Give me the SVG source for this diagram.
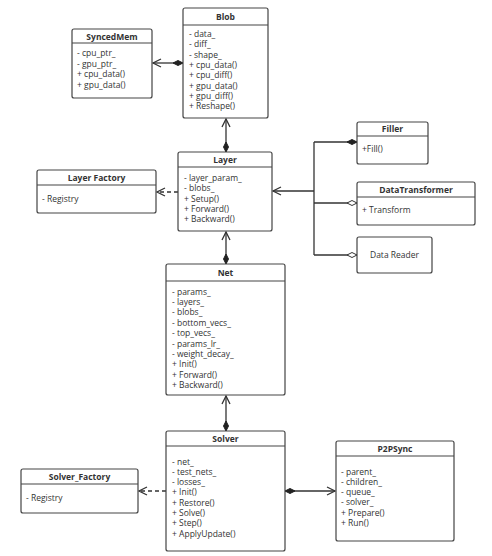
<svg xmlns="http://www.w3.org/2000/svg" width="492" height="556" viewBox="0 0 492 556">
<style>
.box{fill:#fff;stroke:#444;stroke-width:1.2}
.hl{stroke:#444;stroke-width:1.1}
.t{font-family:"Open Sans","Noto Sans",sans-serif;font-size:8.5px;fill:#333}
.b{font-weight:bold;text-anchor:middle}
.c{fill:none;stroke:#333;stroke-width:1.3}
.d{stroke-dasharray:4,3}
</style>
<defs>
<marker id="open" markerWidth="11" markerHeight="11" refX="9" refY="5" orient="auto" markerUnits="userSpaceOnUse">
<path d="M1,1 L9,5 L1,9" fill="none" stroke="#333" stroke-width="1.3"/>
</marker>
<marker id="fds" markerWidth="12" markerHeight="8" refX="1" refY="4" orient="auto" markerUnits="userSpaceOnUse">
<path d="M1,4 L6,1.5 L11,4 L6,6.5 Z" fill="#222" stroke="#222"/>
</marker>
<marker id="fd" markerWidth="12" markerHeight="8" refX="11" refY="4" orient="auto" markerUnits="userSpaceOnUse">
<path d="M1,4 L6,1.5 L11,4 L6,6.5 Z" fill="#222" stroke="#222"/>
</marker>
<marker id="od" markerWidth="12" markerHeight="8" refX="11" refY="4" orient="auto" markerUnits="userSpaceOnUse">
<path d="M1,4 L6,1.5 L11,4 L6,6.5 Z" fill="#fff" stroke="#333"/>
</marker>
</defs>
<rect width="492" height="556" fill="#fff"/>
<g id="connectors">
<path class="c" d="M183,63 L153,63" marker-start="url(#fds)" marker-end="url(#open)"/>
<path class="c" d="M226,152 L226,119" marker-start="url(#fds)" marker-end="url(#open)"/>
<path class="c d" d="M178,192 L157,192" marker-end="url(#open)"/>
<path class="c" d="M314,191 L273,191" marker-end="url(#open)"/>
<path class="c" d="M314,142 L314,255"/>
<path class="c" d="M314,142 L357,142" marker-end="url(#fd)"/>
<path class="c" d="M314,203 L357,203" marker-end="url(#od)"/>
<path class="c" d="M314,255 L357,255" marker-end="url(#od)"/>
<path class="c" d="M226,264 L226,232" marker-start="url(#fds)" marker-end="url(#open)"/>
<path class="c" d="M226,431 L226,396" marker-start="url(#fds)" marker-end="url(#open)"/>
<path class="c d" d="M166,491 L139,491" marker-end="url(#open)"/>
<path class="c" d="M285,491 L335,491" marker-start="url(#fds)" marker-end="url(#open)"/>
</g>
<g id="blob">
<rect class="box" x="183" y="8" width="85" height="110" rx="2"/>
<line class="hl" x1="183" y1="25" x2="268" y2="25"/>
<text class="t b" x="225.5" y="19.5">Blob</text>
<text class="t" x="189" y="37">- data_</text>
<text class="t" x="189" y="47.3">- diff_</text>
<text class="t" x="189" y="57.6">- shape_</text>
<text class="t" x="189" y="67.9">+ cpu_data()</text>
<text class="t" x="189" y="78.2">+ cpu_diff()</text>
<text class="t" x="189" y="88.5">+ gpu_data()</text>
<text class="t" x="189" y="98.8">+ gpu_diff()</text>
<text class="t" x="189" y="109.1">+ Reshape()</text>
</g>
<g id="syncedmem">
<rect class="box" x="72" y="29" width="80" height="69" rx="2"/>
<line class="hl" x1="72" y1="43" x2="152" y2="43"/>
<text class="t b" x="112" y="39.5">SyncedMem</text>
<text class="t" x="77" y="56">- cpu_ptr_</text>
<text class="t" x="77" y="66.5">- gpu_ptr_</text>
<text class="t" x="77" y="77">+ cpu_data()</text>
<text class="t" x="77" y="87.5">+ gpu_data()</text>
</g>
<g id="layer">
<rect class="box" x="178" y="152" width="94" height="79" rx="2"/>
<line class="hl" x1="178" y1="167" x2="272" y2="167"/>
<text class="t b" x="225" y="162.5">Layer</text>
<text class="t" x="184" y="181">- layer_param_</text>
<text class="t" x="184" y="191.3">- blobs_</text>
<text class="t" x="184" y="201.6">+ Setup()</text>
<text class="t" x="184" y="211.9">+ Forward()</text>
<text class="t" x="184" y="222.2">+ Backward()</text>
</g>
<g id="layerfactory">
<rect class="box" x="37" y="170" width="119" height="43" rx="2"/>
<line class="hl" x1="37" y1="185" x2="156" y2="185"/>
<text class="t b" x="96.5" y="181">Layer Factory</text>
<text class="t" x="42" y="201.5">- Registry</text>
</g>
<g id="filler">
<rect class="box" x="357" y="122" width="71" height="42" rx="2"/>
<line class="hl" x1="357" y1="136" x2="428" y2="136"/>
<text class="t b" x="392.5" y="132">Filler</text>
<text class="t" x="362" y="151.5">+Fill()</text>
</g>
<g id="datatransformer">
<rect class="box" x="357" y="182" width="118" height="43" rx="2"/>
<line class="hl" x1="357" y1="197" x2="475" y2="197"/>
<text class="t b" x="416" y="192.5">DataTransformer</text>
<text class="t" x="362" y="212.5">+ Transform</text>
</g>
<g id="datareader">
<rect class="box" x="357" y="237" width="75" height="36" rx="2"/>
<text class="t" x="394.5" y="258" text-anchor="middle">Data Reader</text>
</g>
<g id="net">
<rect class="box" x="166" y="264" width="119" height="131" rx="2"/>
<line class="hl" x1="166" y1="281" x2="285" y2="281"/>
<text class="t b" x="225.5" y="276">Net</text>
<text class="t" x="172" y="294.5">- params_</text>
<text class="t" x="172" y="304.9">- layers_</text>
<text class="t" x="172" y="315.3">- blobs_</text>
<text class="t" x="172" y="325.7">- bottom_vecs_</text>
<text class="t" x="172" y="336.1">- top_vecs_</text>
<text class="t" x="172" y="346.5">- params_lr_</text>
<text class="t" x="172" y="356.9">- weight_decay_</text>
<text class="t" x="172" y="367.3">+ Init()</text>
<text class="t" x="172" y="377.7">+ Forward()</text>
<text class="t" x="172" y="388.1">+ Backward()</text>
</g>
<g id="solver">
<rect class="box" x="166" y="431" width="119" height="120" rx="2"/>
<line class="hl" x1="166" y1="446" x2="285" y2="446"/>
<text class="t b" x="225.5" y="441.5">Solver</text>
<text class="t" x="172" y="464.5">- net_</text>
<text class="t" x="172" y="474.8">- test_nets_</text>
<text class="t" x="172" y="485.1">- losses_</text>
<text class="t" x="172" y="495.4">+ Init()</text>
<text class="t" x="172" y="505.7">+ Restore()</text>
<text class="t" x="172" y="516">+ Solve()</text>
<text class="t" x="172" y="526.3">+ Step()</text>
<text class="t" x="172" y="536.6">+ ApplyUpdate()</text>
</g>
<g id="solverfactory">
<rect class="box" x="21" y="469" width="117" height="44" rx="2"/>
<line class="hl" x1="21" y1="484" x2="138" y2="484"/>
<text class="t b" x="79.5" y="480">Solver_Factory</text>
<text class="t" x="26" y="500.5">- Registry</text>
</g>
<g id="p2psync">
<rect class="box" x="336" y="441" width="118" height="100" rx="2"/>
<line class="hl" x1="336" y1="456" x2="454" y2="456"/>
<text class="t b" x="395" y="452">P2PSync</text>
<text class="t" x="341" y="474.5">- parent_</text>
<text class="t" x="341" y="484.8">- children_</text>
<text class="t" x="341" y="495.1">- queue_</text>
<text class="t" x="341" y="505.4">- solver_</text>
<text class="t" x="341" y="515.7">+ Prepare()</text>
<text class="t" x="341" y="526">+ Run()</text>
</g>
</svg>
